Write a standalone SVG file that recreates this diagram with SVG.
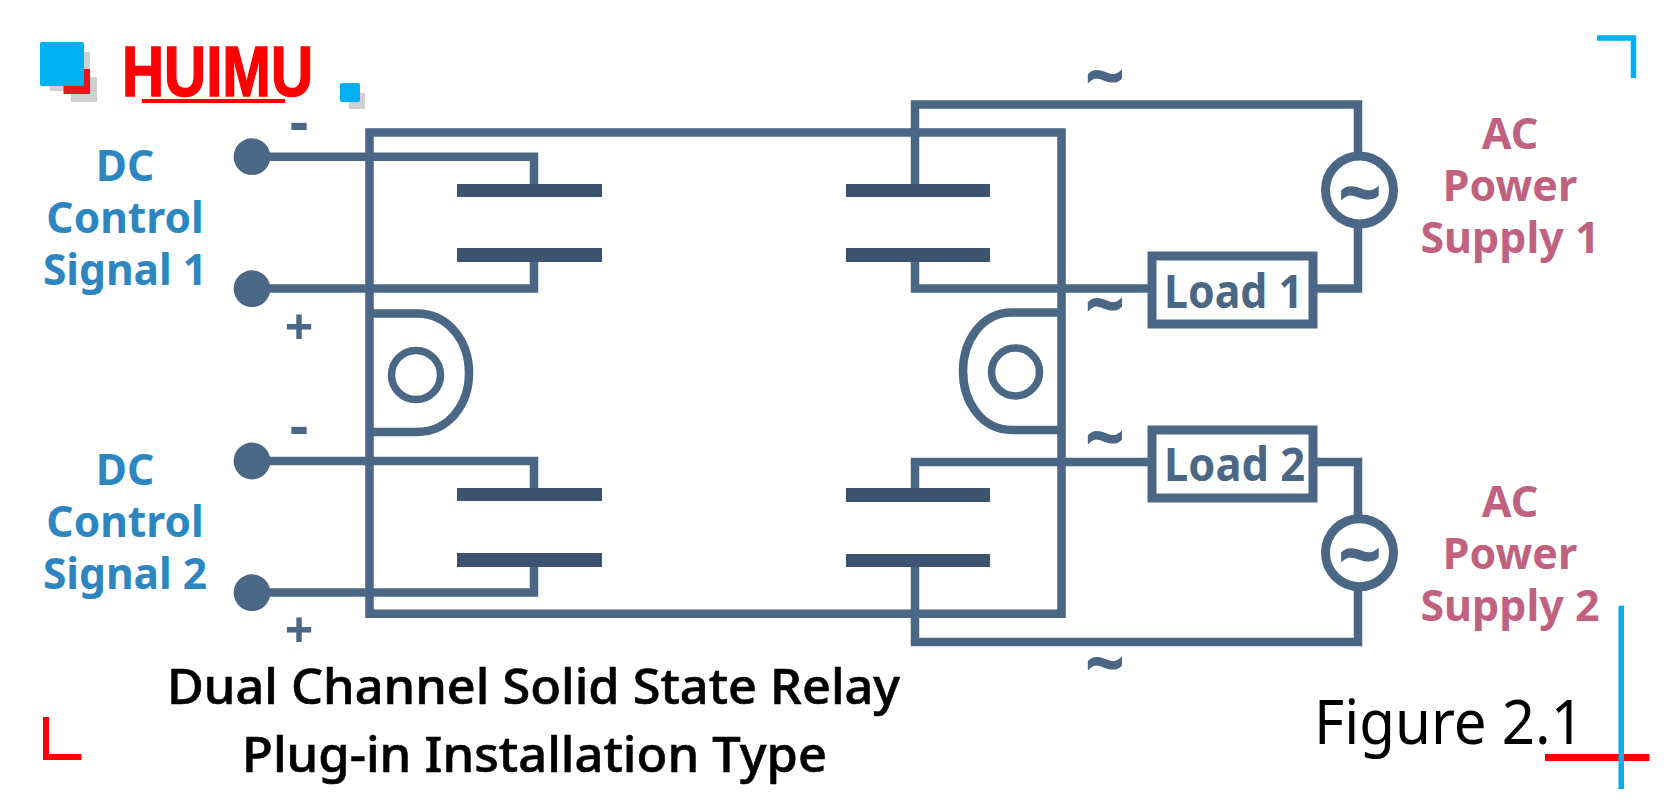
<svg xmlns="http://www.w3.org/2000/svg" width="1679" height="799" viewBox="0 0 1679 799">
<style>
text{font-family:"Noto Sans","Open Sans","Liberation Sans",sans-serif}
.w{fill:none;stroke:#4a6785;stroke-width:8.500;stroke-linejoin:miter}
.bar{fill:#3d5470}
.sym{fill:#4a6785;font-weight:700;text-anchor:middle}
.tl{stroke:#4a6785;stroke-width:1.200}
.dc{fill:#2e86c1;font-size:42.500px;font-weight:700;text-anchor:middle}
.ac{fill:#c0617f;font-size:43px;font-weight:700;text-anchor:middle}
.load{fill:#4a6785;font-size:46px;font-weight:700}
.ttl{fill:#000;stroke:#000;stroke-width:.6;font-size:49px;font-weight:500}
</style>
<rect width="1679" height="799" fill="#fff"/>
<g id="logo">
<rect x="50" y="52" width="40" height="39" fill="#cfcfcf"/>
<rect x="71" y="77" width="26" height="25" fill="#cfcfcf"/>
<rect x="63.500" y="69" width="26.500" height="25" fill="#e8141c"/>
<rect x="40" y="42" width="44" height="44" rx="2" fill="#00b0f0"/>
<text x="122" y="96" font-size="70" font-weight="700" fill="#f00" stroke="#f00" stroke-width="1.500" textLength="191" lengthAdjust="spacingAndGlyphs" style="font-family:'Liberation Sans',sans-serif">HUIMU</text>
<rect x="142" y="99" width="143" height="4" fill="#f00"/>
<rect x="349" y="93" width="16" height="16" fill="#cfcfcf"/>
<rect x="340" y="83" width="20" height="19" rx="2" fill="#00b0f0"/>
</g>
<g id="connectors">
<path class="w" d="M1061.500 132.500H369.500V613.700H1061.500Z"/>
<path class="w" d="M252 156.700H534V190M252 288.500H534V255"/>
<path class="w" d="M252 461H534V494M252 592.500H534V560"/>
<path class="w" d="M915 190V104.500H1358V160M915 255V288.500H1148M1317 288.500H1358V222"/>
<path class="w" d="M915 494V462H1148M1317 462H1358V520M915 560V642H1358V585"/>
</g>
<g id="relay-input-coupling">
<path class="w" d="M369.500 313.500H417C449 313.500 469 342 469 373C469 404 449 432 417 432H369.500"/>
<circle cx="416" cy="375" r="24.500" fill="none" stroke="#4a6785" stroke-width="7.500"/>
</g>
<g id="relay-output-coupling">
<path class="w" d="M1061.500 312.500H1012C981 312.500 963 342 963 371C963 401 981 430 1012 430H1061.500"/>
<circle cx="1015.500" cy="372" r="24" fill="none" stroke="#4a6785" stroke-width="7.500"/>
</g>
<g id="contacts">
<rect class="bar" x="457" y="184" width="145" height="13"/>
<rect class="bar" x="457" y="248" width="145" height="14"/>
<rect class="bar" x="846" y="184" width="144" height="13"/>
<rect class="bar" x="846" y="248" width="144" height="14"/>
<rect class="bar" x="457" y="488" width="145" height="13"/>
<rect class="bar" x="457" y="553" width="145" height="14"/>
<rect class="bar" x="846" y="488" width="144" height="14"/>
<rect class="bar" x="846" y="554" width="144" height="13"/>
</g>
<g id="terminal-dc1-minus"><circle cx="252" cy="156.700" r="18.400" fill="#4a6785"/><text class="sym" x="299" y="142" font-size="58">-</text></g>
<g id="terminal-dc1-plus"><circle cx="252" cy="288.700" r="18.400" fill="#4a6785"/><text class="sym" x="299" y="345" font-size="50">+</text></g>
<g id="terminal-dc2-minus"><circle cx="252" cy="461" r="18.400" fill="#4a6785"/><text class="sym" x="299" y="446" font-size="58">-</text></g>
<g id="terminal-dc2-plus"><circle cx="252" cy="592.700" r="18.400" fill="#4a6785"/><text class="sym" x="299" y="648" font-size="50">+</text></g>
<g id="label-dc1"><text class="dc" x="125" y="181">DC</text><text class="dc" x="125" y="233">Control</text><text class="dc" x="125" y="285">Signal 1</text></g>
<g id="label-dc2"><text class="dc" x="125" y="485">DC</text><text class="dc" x="125" y="537">Control</text><text class="dc" x="125" y="589">Signal 2</text></g>
<g id="load-1"><rect x="1152" y="256" width="161" height="68" fill="#fff" stroke="#4a6785" stroke-width="9"/><text class="load" x="1164" y="308" textLength="139" lengthAdjust="spacingAndGlyphs">Load 1</text></g>
<g id="load-2"><rect x="1152" y="430" width="161" height="68" fill="#fff" stroke="#4a6785" stroke-width="9"/><text class="load" x="1164" y="481" textLength="141" lengthAdjust="spacingAndGlyphs">Load 2</text></g>
<g id="source-1"><circle cx="1359.500" cy="190" r="34" fill="#fff" stroke="#4a6785" stroke-width="9"/><text class="sym tl" x="1360" y="218.500" font-size="75">~</text></g>
<g id="source-2"><circle cx="1359.500" cy="552.700" r="34" fill="#fff" stroke="#4a6785" stroke-width="9"/><text class="sym tl" x="1360" y="581" font-size="75">~</text></g>
<g id="ac-marks">
<text class="sym tl" x="1105" y="100" font-size="68">~</text>
<text class="sym tl" x="1105" y="327.500" font-size="68">~</text>
<text class="sym tl" x="1105" y="460.500" font-size="68">~</text>
<text class="sym tl" x="1105" y="687" font-size="68">~</text>
</g>
<g id="label-ac1"><text class="ac" x="1510" y="149">AC</text><text class="ac" x="1510" y="201">Power</text><text class="ac" x="1510" y="253">Supply 1</text></g>
<g id="label-ac2"><text class="ac" x="1510" y="517">AC</text><text class="ac" x="1510" y="569">Power</text><text class="ac" x="1510" y="621">Supply 2</text></g>
<g id="title">
<text class="ttl" x="167" y="704" textLength="733" lengthAdjust="spacingAndGlyphs">Dual Channel Solid State Relay</text>
<text class="ttl" x="242" y="772" textLength="585" lengthAdjust="spacingAndGlyphs">Plug-in Installation Type</text>
<text x="1314" y="744" font-size="62" fill="#000" textLength="270" lengthAdjust="spacingAndGlyphs">Figure 2.1</text>
</g>
<g id="corner-marks">
<path d="M1597 38H1633.500V78" fill="none" stroke="#00b0f0" stroke-width="5.500"/>
<path d="M46 717V757H81.500" fill="none" stroke="#f00" stroke-width="6"/>
<rect x="1545" y="754" width="104.500" height="7" fill="#f00"/>
<rect x="1618.500" y="605.700" width="5.500" height="183.300" fill="#00b0f0"/>
</g>
</svg>
